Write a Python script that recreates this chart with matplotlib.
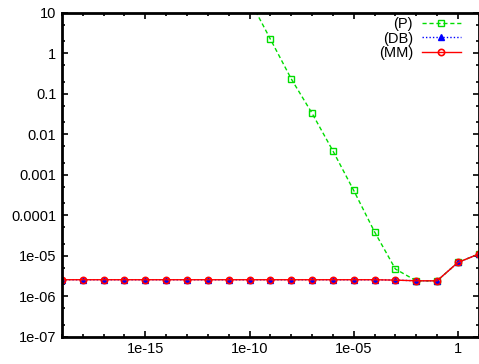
import numpy as np
import matplotlib
matplotlib.use('Agg')
import matplotlib.pyplot as plt
from matplotlib.ticker import LogLocator, FixedLocator, NullFormatter

plt.rcParams['font.family'] = ['Liberation Sans', 'DejaVu Sans']

# x values: one point per decade
x_mm = [1e-19, 1e-18, 1e-17, 1e-16, 1e-15, 1e-14, 1e-13, 1e-12, 1e-11, 1e-10,
        1e-9, 1e-8, 1e-7, 1e-6, 1e-5, 1e-4, 1e-3, 1e-2, 1e-1, 1, 10]
y_mm = [2.55e-6] * 16 + [2.5e-6, 2.4e-6, 2.4e-6, 6.8e-6, 1.1e-5]
y_db = list(y_mm)

x_p = [1e-11, 1e-10, 1e-9, 1e-8, 1e-7, 1e-6, 1e-5, 1e-4, 1e-3, 1e-2, 1e-1, 1, 10]
y_p = [220, 21, 2.24, 0.234, 0.033, 0.0039, 4.1e-4, 3.9e-5, 4.7e-6, 2.4e-6, 2.4e-6, 6.8e-6, 1.1e-5]

fig = plt.figure(figsize=(4.79, 3.64), dpi=100)
ax = fig.add_axes([0.1294, 0.075, 0.870, 0.890])

ax.plot(x_p, y_p, color='#00dd00', linestyle=(0, (3, 2)), linewidth=1.0,
        marker='s', markersize=5, markerfacecolor='none', markeredgecolor='#00dd00',
        markeredgewidth=1.0, label='(P)')
ax.plot(x_mm, y_db, color='#0000ff', linestyle=(0, (1, 1.5)), linewidth=1.0,
        marker='^', markersize=4, markerfacecolor='#0000ff', markeredgecolor='#0000ff',
        label='(DB)')
ax.plot(x_mm, y_mm, color='#ff0000', linestyle='-', linewidth=1.0,
        marker='o', markersize=4.5, markerfacecolor='none', markeredgecolor='#ff0000',
        markeredgewidth=1.2, label='(MM)')

ax.set_xscale('log')
ax.set_yscale('log')
ax.set_xlim(1e-19, 10)
ax.set_ylim(1e-7, 10)

xt = [1e-15, 1e-10, 1e-5, 1]
ax.xaxis.set_major_locator(FixedLocator(xt))
ax.set_xticklabels(['1e-15', '1e-10', '1e-05', '1'])
ax.xaxis.set_minor_locator(FixedLocator([10.0 ** k for k in range(-19, 2)]))
ax.xaxis.set_minor_formatter(NullFormatter())

yt = [10.0 ** k for k in range(-7, 2)]
ax.yaxis.set_major_locator(FixedLocator(yt))
ax.set_yticklabels(['1e-07', '1e-06', '1e-05', '0.0001', '0.001', '0.01', '0.1', '1', '10'])
ax.yaxis.set_minor_locator(LogLocator(base=10, subs=(2, 5), numticks=20))
ax.yaxis.set_minor_formatter(NullFormatter())

ax.tick_params(which='both', direction='in', top=True, right=True, labelsize=10.5,
               width=1.2, colors='black')
ax.tick_params(which='major', length=4, pad=4)
ax.tick_params(which='minor', length=2)
for s in ax.spines.values():
    s.set_linewidth(2)

leg = ax.legend(loc='upper right', frameon=False, fontsize=10.5, markerfirst=False,
                handlelength=2.7, handletextpad=0.6, labelspacing=0.05,
                borderaxespad=0.1, bbox_to_anchor=(0.975, 1.01))
for t in leg.get_texts():
    t.set_ha('right')

fig.savefig('out.png', dpi=100)
